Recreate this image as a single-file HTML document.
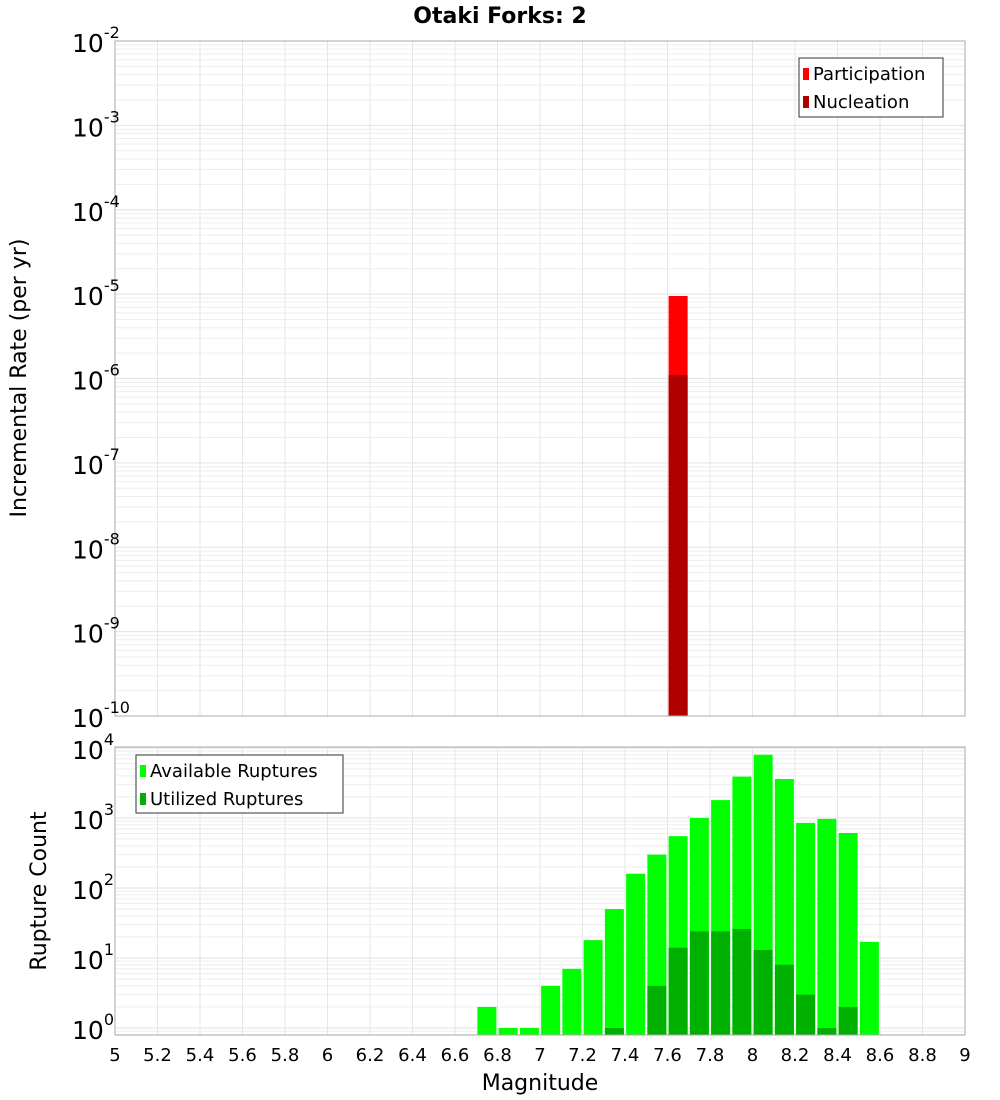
<!DOCTYPE html>
<html><head><meta charset="utf-8"><style>
body{margin:0;background:#fff;}
svg{display:block;font-family:"DejaVu Sans","Liberation Sans",sans-serif;}
</style></head><body>
<svg id="chart" width="1000" height="1100" viewBox="0 0 1000 1100" xmlns="http://www.w3.org/2000/svg">
<text x="500" y="23" text-anchor="middle" font-size="22" font-weight="bold">Otaki Forks: 2</text>
<g id="gtop"></g><g id="gbot"></g>
</svg>
<script>
const binCenters=[6.75,6.85,6.95,7.05,7.15,7.25,7.35,7.45,7.55,7.65,7.75,7.85,7.95,8.05,8.15,8.25,8.35,8.45,8.55];
const available=[2,1,1,4,7,18,50,160,300,550,1000,1800,3900,8000,3600,850,970,610,17];
const utilized=[0,0,0,0,0,0,1,0,4,14,24,24,26,13,8,3,1,2,0];
const rateMags=[7.65];
const participation=[9.5e-6];
const nucleation=[1.1e-6];
const xTicks=[5,5.2,5.4,5.6,5.8,6,6.2,6.4,6.6,6.8,7,7.2,7.4,7.6,7.8,8,8.2,8.4,8.6,8.8,9];
const topExps=[-2,-3,-4,-5,-6,-7,-8,-9,-10];
const botExps=[0,1,2,3,4];

const NS="http://www.w3.org/2000/svg";
const X0=115,X1=965;
const sx=m=>X0+(m-5)/4*(X1-X0);
function el(p,tag,at,txt){const e=document.createElementNS(NS,tag);for(const k in at)e.setAttribute(k,at[k]);if(txt!==undefined)e.textContent=txt;p.appendChild(e);return e;}
const gTop=document.getElementById('gtop'),gBot=document.getElementById('gbot');
const tT=41,tB=716,tLmax=-2,tLmin=-10;
const syT=v=>tT+(tLmax-Math.log10(v))/(tLmax-tLmin)*(tB-tT);
const bT=747,bB=1035,bLmax=4.014,bLmin=-0.1;
const syB=v=>bT+(bLmax-Math.log10(v))/(bLmax-bLmin)*(bB-bT);
function grid(g,yT,yB,sy,lmin,lmax){
  for(let e=Math.floor(lmin);e<=Math.ceil(lmax);e++)for(let k=1;k<10;k++){const v=k*Math.pow(10,e);const y=sy(v);if(y<yT||y>yB)continue;
    const l=el(g,'line',{x1:X0,x2:X1,y1:y,y2:y,stroke:k==1?'#e2e2e2':'#eeeeee','stroke-width':1});
    
    }
  xTicks.forEach(t=>{const l=el(g,'line',{x1:sx(t),x2:sx(t),y1:yT,y2:yB,stroke:'#e6e6e6'});
    
    });
}
grid(gTop,tT,tB,syT,tLmin,tLmax);
grid(gBot,bT,bB,syB,bLmin,bLmax);
const bw=19;
rateMags.forEach((m,i)=>{
  const r=el(gTop,'rect',{x:sx(m)-bw/2,y:syT(participation[i]),width:bw,height:tB-syT(participation[i]),fill:'#ff0000'});
  
  
  const n=el(gTop,'rect',{x:sx(m)-bw/2,y:syT(nucleation[i]),width:bw,height:tB-syT(nucleation[i]),fill:'#b00000'});
  
  
});
binCenters.forEach((m,i)=>{
  const y=Math.max(bT,syB(available[i]));
  const r=el(gBot,'rect',{x:sx(m)-bw/2,y:y,width:bw,height:bB-y,fill:'#00ff00'});
  
  
  if(utilized[i]>0){const yu=syB(utilized[i]);
    const u=el(gBot,'rect',{x:sx(m)-bw/2,y:yu,width:bw,height:bB-yu,fill:'#00b000'});
    
    }
});
const svg=document.getElementById('chart');
[[tT,tB],[bT,bB]].forEach(([a,b])=>{const f=el(svg,'rect',{x:X0,y:a,width:X1-X0,height:b-a,fill:'none',stroke:'#aaaaaa'});
  
  });
topExps.forEach(e=>{const y=syT(Math.pow(10,e));
  const t=el(svg,'text',{x:72,y:y+11,'font-size':25});
  
  
  t.textContent='10';el(t,'tspan',{dy:-14,'font-size':16},String(e));});
botExps.forEach(e=>{const y=syB(Math.pow(10,e));
  const t=el(svg,'text',{x:72,y:y+11,'font-size':25});
  
  
  t.textContent='10';el(t,'tspan',{dy:-14,'font-size':16},String(e));});
xTicks.forEach(v=>{const t=el(svg,'text',{x:sx(v),y:1061,'text-anchor':'middle','font-size':18},String(v));
  
  });
</script>
<svg style="position:absolute;left:0;top:0" width="1000" height="1100">
<text x="540" y="1090" text-anchor="middle" font-size="22" font-family="DejaVu Sans, sans-serif">Magnitude</text>
<text transform="translate(26,378) rotate(-90)" text-anchor="middle" font-size="22" font-family="DejaVu Sans, sans-serif">Incremental Rate (per yr)</text>
<text transform="translate(46,891) rotate(-90)" text-anchor="middle" font-size="22" font-family="DejaVu Sans, sans-serif">Rupture Count</text>
<g font-family="DejaVu Sans, sans-serif" font-size="18">
<rect x="799" y="58" width="144" height="59" fill="#fff" stroke="#333"/>
<rect x="803" y="68" width="6" height="12" fill="#ff0000"/><text x="813" y="80">Participation</text>
<rect x="803" y="96" width="6" height="12" fill="#b00000"/><text x="813" y="108">Nucleation</text>
</g>
<g font-family="DejaVu Sans, sans-serif" font-size="18">
<rect x="136" y="755" width="207" height="58" fill="#fff" stroke="#333"/>
<rect x="140" y="765" width="6" height="12" fill="#00ff00"/><text x="150" y="777">Available Ruptures</text>
<rect x="140" y="793" width="6" height="12" fill="#00b000"/><text x="150" y="805">Utilized Ruptures</text>
</g>
</svg>
</body></html>
